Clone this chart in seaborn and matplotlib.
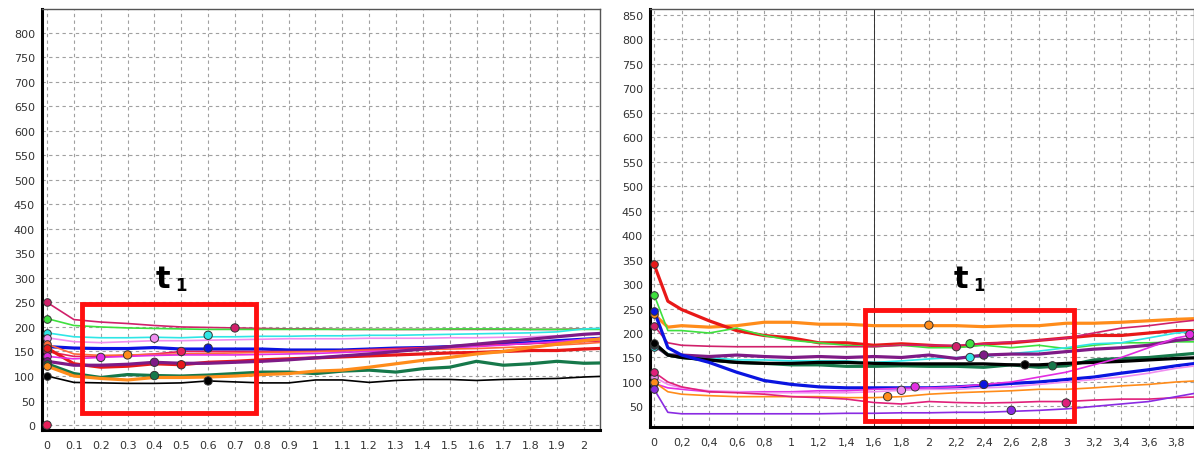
import numpy as np
import pandas as pd
import matplotlib
matplotlib.use("Agg")
import matplotlib.pyplot as plt
import seaborn as sns
from matplotlib.patches import Rectangle

# ---------------- LEFT PANEL DATA ----------------
left_x = [0, 0.1, 0.2, 0.3, 0.4, 0.5, 0.6, 0.7, 0.8, 0.9, 1.0, 1.1,
          1.2, 1.3, 1.4, 1.5, 1.6, 1.7, 1.8, 1.9, 2.0, 2.1]
L_crimson = [250, 215, 210, 207, 203, 200, 199, 198, 197, 196, 196, 195, 195, 195, 195, 195, 195, 195, 195, 195, 196, 196]
L_green   = [217, 203, 200, 198, 197, 196, 195, 195, 195, 195, 195, 195, 195, 195, 195, 196, 196, 196, 195, 195, 195, 195]
L_cyan    = [188, 180, 178, 178, 179, 178, 180, 180, 181, 181, 182, 182, 183, 183, 184, 185, 186, 187, 188, 190, 196, 198]
L_violet  = [178, 170, 168, 170, 172, 172, 173, 174, 175, 176, 176, 176, 177, 177, 177, 178, 178, 179, 180, 182, 185, 187]
L_blue    = [160, 157, 156, 156, 158, 155, 155, 155, 155, 153, 153, 153, 155, 157, 158, 160, 163, 166, 168, 172, 175, 178]
L_rose    = [150, 140, 140, 142, 145, 150, 150, 150, 150, 150, 150, 152, 154, 156, 158, 160, 162, 164, 166, 168, 170, 172]
L_coral   = [165, 145, 142, 143, 144, 145, 146, 147, 148, 149, 150, 151, 152, 153, 154, 155, 156, 158, 160, 163, 166, 170]
L_red     = [157, 125, 118, 120, 125, 123, 128, 130, 133, 135, 137, 139, 141, 143, 145, 147, 148, 150, 152, 152, 155, 157]
L_magenta = [140, 135, 138, 140, 142, 143, 143, 143, 144, 145, 146, 148, 150, 152, 155, 158, 160, 163, 167, 170, 175, 178]
L_purple  = [130, 122, 122, 124, 128, 126, 126, 128, 130, 133, 137, 141, 145, 150, 155, 160, 165, 170, 175, 180, 185, 188]
L_dgreen  = [125, 105, 97, 103, 101, 100, 102, 105, 108, 108, 105, 110, 112, 108, 115, 118, 130, 122, 125, 130, 126, 127]
L_orange  = [120, 100, 95, 92, 97, 97, 98, 100, 103, 105, 110, 112, 118, 125, 132, 138, 145, 150, 158, 165, 172, 178]
L_black   = [100, 87, 86, 85, 85, 86, 90, 88, 86, 86, 92, 92, 87, 91, 93, 93, 91, 93, 94, 95, 98, 100]

left_names = ["crimson", "green", "cyan", "violet", "blue", "rose", "coral", "red",
              "magenta", "purple", "dgreen", "orange", "black"]
left_values = [L_crimson, L_green, L_cyan, L_violet, L_blue, L_rose, L_coral, L_red,
               L_magenta, L_purple, L_dgreen, L_orange, L_black]

# highlighted points (left)
left_mark_x = [0.7, 0.6, 0.4, 0.6, 0.5, 0.3, 0.5, 0.2, 0.4, 0.4, 0.6, 0.0]
left_mark_y = [198, 183, 177, 157, 150, 143, 123, 138, 128, 101, 90, 0]
left_mark_s = ["crimson", "cyan", "violet", "blue", "rose", "orange", "red",
               "magenta", "purple", "dgreen", "black", "rose"]

# ---------------- RIGHT PANEL DATA ----------------
right_x = [0, 0.1, 0.2, 0.4, 0.6, 0.8, 1.0, 1.2, 1.4, 1.6, 1.8, 2.0,
           2.2, 2.4, 2.6, 2.8, 3.0, 3.2, 3.4, 3.6, 3.8, 4.0]
R_red     = [340, 265, 248, 225, 205, 195, 190, 180, 180, 175, 178, 175, 172, 178, 180, 185, 190, 195, 195, 200, 205, 205]
R_green   = [278, 205, 205, 200, 210, 195, 185, 180, 175, 172, 175, 170, 170, 175, 170, 175, 168, 175, 180, 180, 182, 182]
R_orange  = [238, 212, 215, 212, 215, 222, 222, 218, 218, 215, 215, 215, 215, 213, 215, 215, 220, 220, 222, 225, 228, 230]
R_blue    = [245, 170, 155, 140, 120, 103, 95, 90, 88, 88, 88, 88, 90, 93, 97, 100, 105, 110, 118, 125, 133, 140]
R_crimson = [215, 180, 175, 173, 172, 172, 172, 172, 172, 172, 175, 175, 175, 178, 182, 185, 190, 200, 210, 215, 222, 228]
R_black   = [180, 155, 150, 145, 140, 138, 138, 140, 140, 138, 137, 137, 137, 137, 135, 135, 138, 140, 142, 145, 148, 150]
R_cyan    = [172, 158, 153, 150, 145, 145, 143, 143, 143, 140, 143, 147, 150, 152, 158, 163, 170, 178, 180, 190, 200, 205]
R_purple  = [175, 155, 155, 152, 155, 152, 150, 152, 150, 152, 150, 155, 148, 155, 157, 157, 162, 167, 170, 175, 185, 190]
R_dgreen  = [178, 155, 150, 145, 140, 138, 135, 135, 132, 132, 133, 132, 132, 130, 135, 130, 133, 145, 148, 150, 155, 160]
R_magenta = [97, 88, 85, 80, 80, 80, 80, 82, 82, 85, 87, 88, 90, 95, 100, 110, 120, 135, 150, 170, 190, 200]
R_pink    = [120, 100, 90, 80, 78, 75, 70, 68, 65, 58, 55, 60, 58, 57, 58, 60, 60, 63, 65, 65, 68, 70]
R_violet  = [110, 95, 88, 82, 80, 78, 78, 78, 78, 80, 83, 85, 85, 88, 90, 95, 100, 105, 110, 118, 128, 135]
R_orange2 = [100, 80, 75, 72, 70, 70, 70, 70, 68, 68, 70, 75, 78, 80, 82, 85, 85, 88, 92, 95, 100, 103]
R_indigo  = [85, 38, 35, 35, 35, 35, 35, 35, 36, 36, 37, 37, 38, 38, 40, 42, 45, 50, 55, 60, 70, 80]

right_names = ["orange", "red", "green", "crimson", "cyan", "purple", "dgreen", "black",
               "blue", "magenta", "violet", "orange2", "pink", "indigo"]
right_values = [R_orange, R_red, R_green, R_crimson, R_cyan, R_purple, R_dgreen, R_black,
                R_blue, R_magenta, R_violet, R_orange2, R_pink, R_indigo]

right_mark_x = [2.0, 2.2, 2.3, 2.3, 2.4, 2.7, 2.9, 2.4, 1.9, 1.8, 1.7, 3.0, 2.6, 3.9]
right_mark_y = [216, 172, 178, 150, 155, 135, 133, 95, 90, 83, 70, 57, 42, 197]
right_mark_s = ["orange", "crimson", "green", "cyan", "purple", "black", "dgreen", "blue",
                "magenta", "violet", "orange2", "pink", "indigo", "magenta"]

# ---------------- STYLES ----------------
colors = {
    "crimson": "#d0206a", "green": "#3ee03e", "cyan": "#2ee6e6", "violet": "#f08ef0",
    "blue": "#0a14e0", "rose": "#e8205a", "coral": "#ff6a3a", "red": "#e81818",
    "magenta": "#e22de2", "purple": "#7e1a86", "dgreen": "#16784a", "orange": "#ff8c1a",
    "black": "#000000", "orange2": "#ff8c1a", "pink": "#e0207a", "indigo": "#8a2be2",
}
thick = {"blue", "purple", "dgreen", "orange", "red"}

sns.set_style("white")
plt.rcParams["font.family"] = ["DejaVu Sans"]

fig = plt.figure(figsize=(11.94, 4.52), dpi=100)
axL = fig.add_axes([42 / 1194, 1 - 431 / 452, (600 - 42) / 1194, (431 - 10) / 452])
axR = fig.add_axes([650 / 1194, 1 - 428 / 452, (1194 - 650) / 1194, (428 - 10) / 452])


def draw_panel(ax, xs, names, values, mx, my, ms, right):
    for name, vals in zip(names, values):
        df = pd.DataFrame({"x": xs, "y": vals})
        lw = 2.3 if name in thick or (right and name == "black") else 1.2
        sns.lineplot(data=df, x="x", y="y", ax=ax, color=colors[name], lw=lw,
                     zorder=3, legend=False)
        # starting point marker
        sns.scatterplot(x=[xs[0]], y=[vals[0]], ax=ax, color=colors[name], s=30,
                        edgecolor="#333333", linewidth=0.7, zorder=5, legend=False)
    mdf = pd.DataFrame({"x": mx, "y": my, "s": ms})
    sns.scatterplot(data=mdf, x="x", y="y", hue="s", palette=colors, ax=ax, s=36,
                    edgecolor="#333333", linewidth=0.7, zorder=6, legend=False)


draw_panel(axL, left_x, left_names, left_values, left_mark_x, left_mark_y, left_mark_s, False)
draw_panel(axR, right_x, right_names, right_values, right_mark_x, right_mark_y, right_mark_s, True)

# Left axis config
axL.set_xlim(-0.019, 2.06)
axL.set_ylim(-10, 848)
lx = np.round(np.arange(0, 2.01, 0.1), 1)
axL.set_xticks(lx)
axL.set_xticklabels([("%g" % v) for v in lx])
axL.set_yticks(np.arange(0, 801, 50))
axL.set_xticks(np.arange(0, 2.06, 0.025), minor=True)

# Right axis config
axR.set_xlim(-0.03, 3.93)
axR.set_ylim(8, 862)
rx = np.round(np.arange(0, 3.81, 0.2), 1)
axR.set_xticks(rx)
axR.set_xticklabels([("%g" % v).replace(".", ",") for v in rx])
axR.set_yticks(np.arange(50, 851, 50))
axR.set_xticks(np.arange(0, 3.93, 0.05), minor=True)
axR.axvline(1.6, color="#333333", lw=0.7, zorder=2)

for ax in (axL, axR):
    ax.set_xlabel("")
    ax.set_ylabel("")
    ax.grid(True, which="major", color="#a0a0a0", linestyle=(0, (3, 3)), lw=0.8, zorder=1)
    ax.set_axisbelow(True)
    ax.tick_params(axis="both", which="major", labelsize=8, colors="#333333",
                   length=3, width=0.8, pad=2)
    ax.tick_params(axis="x", which="minor", length=2, width=0.6, color="#555555")
    ax.tick_params(axis="x", which="major", length=3, pad=4)
    for lab in ax.get_xticklabels() + ax.get_yticklabels():
        lab.set_color("#333333")
    ax.spines["left"].set_linewidth(2.2)
    ax.spines["bottom"].set_linewidth(2.2)
    ax.spines["left"].set_color("black")
    ax.spines["bottom"].set_color("black")
    ax.spines["top"].set_linewidth(1.0)
    ax.spines["top"].set_color("#555555")
    ax.spines["right"].set_linewidth(1.0)
    ax.spines["right"].set_color("#555555")

# Red highlight rectangles and t1 labels
axL.add_patch(Rectangle((0.13, 25), 0.65, 222, fill=False, edgecolor="#ff1010", lw=3.5, zorder=7))
axL.text(0.43, 298, "t", fontsize=22, fontweight="bold", color="black", ha="center", va="center", zorder=8)
axL.text(0.50, 285, "1", fontsize=12, fontweight="bold", color="black", ha="center", va="center", zorder=8)

axR.add_patch(Rectangle((1.535, 21), 1.525, 226, fill=False, edgecolor="#ff1010", lw=3.5, zorder=7))
axR.text(2.23, 312, "t", fontsize=22, fontweight="bold", color="black", ha="center", va="center", zorder=8)
axR.text(2.365, 298, "1", fontsize=12, fontweight="bold", color="black", ha="center", va="center", zorder=8)

fig.savefig("out.png", dpi=100)
